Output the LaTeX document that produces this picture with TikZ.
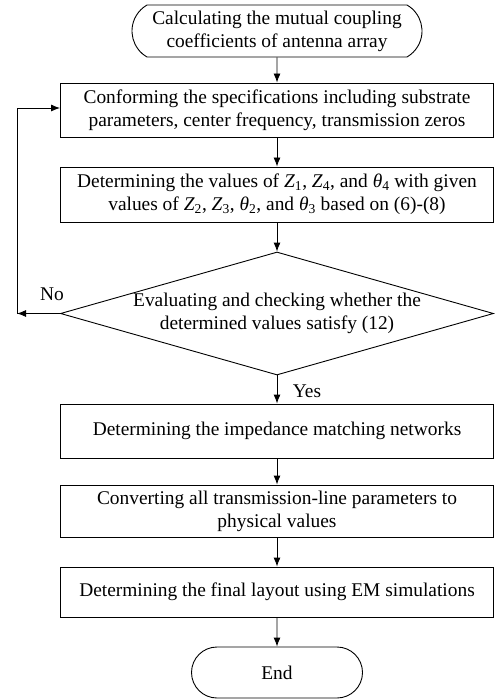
\documentclass[tikz,border=0pt]{standalone}
\usepackage{fontspec}
\setmainfont{Liberation Serif}
\usetikzlibrary{shapes.geometric,shapes.misc,arrows.meta}
\newcommand{\Zs}[1]{\textit{Z}\textsubscript{#1}}
\newcommand{\Ths}[1]{\textit{θ}\textsubscript{#1}}

\begin{document}
\begin{tikzpicture}[x=1pt,y=-1pt]
	\tikzstyle{every node}=[font=\fontsize{19.4}{23}\selectfont]
	\tikzstyle{stepbox}=[draw,line width=0.9pt,minimum width=433pt,inner sep=0pt,align=center]
	\tikzstyle{term}=[draw,line width=0.9pt,rounded rectangle,inner xsep=0pt,inner ysep=0pt,align=center]
	\tikzstyle{arr}=[line width=0.9pt,-{Latex[length=9pt,width=7pt]}]
	\useasboundingbox (0,0) rectangle (495,700);
	\node[term,rounded rectangle arc length=120,minimum width=290pt,minimum height=52pt] at (277,31) (start) {Calculating the mutual coupling\\coefficients of antenna array};
	\node[stepbox,minimum height=54pt] at (277,110) (conf) {Conforming the specifications including substrate\\parameters, center frequency, transmission zeros};
	\node[stepbox,minimum height=55pt] at (277,194.5) (detv) {Determining the values of \Zs{1}, \Zs{4}, and \Ths{4} with given\\values of \Zs{2}, \Zs{3}, \Ths{2}, and \Ths{3} based on (6)-(8)};
	\node[draw,line width=0.9pt,diamond,aspect=3.52,inner sep=0pt,minimum width=433pt,minimum height=123pt,align=center] at (277,313.5) (check) {Evaluating and checking whether the\\determined values satisfy (12)};
	\node[stepbox,minimum height=54pt] at (277,431) (match) {Determining the impedance matching networks};
	\node[stepbox,minimum height=52pt] at (277,511) (conv) {Converting all transmission-line parameters to\\physical values};
	\node[stepbox,minimum height=50pt] at (277,592) (lay) {Determining the final layout using EM simulations};
	\node[term,rounded rectangle arc length=180,minimum width=171pt,minimum height=51pt] at (277,672.5) (end) {End};
	\node at (52,294) (no) {No};
	\node at (307,391) (yes) {Yes};
	\coordinate (fb) at (17,313.5);
	\foreach \a/\b in {start/conf,conf/detv,detv/check,check/match,match/conv,conv/lay,lay/end}
		\draw[arr] (\a) -- (\b);
	\draw[arr] (check.west) -- (fb);
	\draw[arr] (fb) |- ([yshift=2pt]conf.west);
\end{tikzpicture}
\end{document}
